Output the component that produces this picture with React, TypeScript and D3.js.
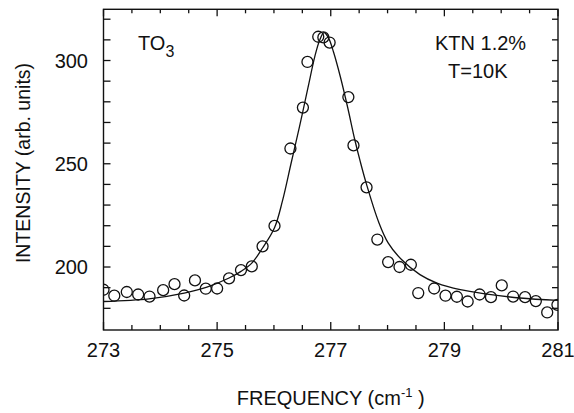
import * as d3 from 'd3';
import React, { useEffect, useRef } from 'react';

// measured points (frequency in cm-1, intensity in arb. units)
const dataFreq = [
  273.0, 273.19, 273.41, 273.61, 273.81, 274.05, 274.25, 274.42, 274.61, 274.8,
  275.0, 275.21, 275.42, 275.61, 275.8, 276.01, 276.29, 276.51, 276.59, 276.78,
  276.87, 276.98, 277.31, 277.4, 277.63, 277.82, 278.01, 278.21, 278.41, 278.54,
  278.82, 279.02, 279.22, 279.41, 279.62, 279.82, 280.01, 280.21, 280.42, 280.61,
  280.81, 280.99,
];
const dataIntensity = [
  189, 186.1, 187.9, 186.7, 185.7, 188.8, 191.7, 186.2, 193.5, 189.5,
  189.6, 194.5, 198.5, 200.3, 210, 219.9, 257.4, 277.2, 299.3, 311.5,
  311.2, 308.7, 282.3, 258.9, 238.6, 213.3, 202.4, 200, 201.1, 187.4,
  189.6, 186.1, 185.6, 183.3, 186.7, 185.4, 191.1, 185.7, 185.4, 183.5,
  178, 181.7,
];

// fitted curve
const fitFreq = [
  273.0, 273.8, 274.42, 274.82, 275.21, 275.42, 275.61, 275.8, 276.01, 276.15,
  276.3, 276.45, 276.6, 276.72, 276.8, 276.88, 276.96, 277.05, 277.17, 277.3,
  277.42, 277.52, 277.63, 277.84, 278.01, 278.25, 278.57, 278.87, 279.28, 279.75,
  280.33, 281.0,
];
const fitIntensity = [
  183.3, 184.6, 187.4, 190.3, 194.7, 197.9, 201.9, 209.2, 219, 232,
  250, 268, 287, 302, 309.5, 313.5, 311, 304, 292, 277,
  262, 251, 240, 222, 211.7, 203.5, 196.3, 192.2, 189, 186.9,
  185, 183.8,
];

const xTickLabels = [273, 275, 277, 279, 281];
const xMinorTicks = [273.5, 274, 274.5, 275.5, 276, 276.5, 277.5, 278, 278.5, 279.5, 280, 280.5];
const yTickLabels = [200, 250, 300];
const yTicks = [180, 190, 200, 210, 220, 230, 240, 250, 260, 270, 280, 290, 300, 310, 320];

const W = 574;
const H = 413;
const FONT = "'Liberation Sans', Arial, Helvetica, sans-serif";

const App = () => {
  const ref = useRef<SVGSVGElement>(null);

  useEffect(() => {
    const svg = d3.select(ref.current);
    svg.selectAll('*').remove();

    const left = 103.5, right = 558, top = 9.3, bottom = 330;

    const x = d3.scaleLinear().domain([273, 281]).range([left, right]);
    const y = d3.scaleLinear().domain([169.5, 324.8]).range([bottom, top]);

    svg.append('defs').append('clipPath').attr('id', 'plotClip')
      .append('rect')
      .attr('x', left).attr('y', top)
      .attr('width', right - left).attr('height', bottom - top);

    // frame
    svg.append('rect')
      .attr('x', left).attr('y', top)
      .attr('width', right - left).attr('height', bottom - top)
      .attr('fill', 'none').attr('stroke', '#111').attr('stroke-width', 1.4);

    const ticks = svg.append('g').attr('stroke', '#111').attr('stroke-width', 1.3);

    // x ticks, inward on bottom and top
    xTickLabels.forEach((v) => {
      ticks.append('line').attr('x1', x(v)).attr('x2', x(v)).attr('y1', bottom).attr('y2', bottom - 8);
      ticks.append('line').attr('x1', x(v)).attr('x2', x(v)).attr('y1', top).attr('y2', top + 7);
    });
    xMinorTicks.forEach((v) => {
      ticks.append('line').attr('x1', x(v)).attr('x2', x(v)).attr('y1', bottom).attr('y2', bottom - 5);
      ticks.append('line').attr('x1', x(v)).attr('x2', x(v)).attr('y1', top).attr('y2', top + 4);
    });

    // y ticks, inward on left and right
    yTicks.forEach((v) => {
      ticks.append('line').attr('x1', left).attr('x2', left + 7).attr('y1', y(v)).attr('y2', y(v));
      ticks.append('line').attr('x1', right).attr('x2', right - 6).attr('y1', y(v)).attr('y2', y(v));
    });

    const labels = svg.append('g').attr('font-family', FONT).attr('fill', '#111');

    labels.selectAll('.xl').data(xTickLabels).enter().append('text')
      .attr('x', (d) => x(d)).attr('y', 357)
      .attr('text-anchor', 'middle').attr('font-size', 20)
      .text((d) => d);

    labels.selectAll('.yl').data(yTickLabels).enter().append('text')
      .attr('x', 88).attr('y', (d) => y(d) + 7)
      .attr('text-anchor', 'end').attr('font-size', 20)
      .text((d) => d);

    // axis titles
    const xt = labels.append('text')
      .attr('x', (left + right) / 2).attr('y', 405)
      .attr('text-anchor', 'middle').attr('font-size', 20);
    xt.append('tspan').text('FREQUENCY (cm');
    xt.append('tspan').attr('font-size', 13).attr('dy', -8).text('-1');
    xt.append('tspan').attr('dy', 8).text(' )');

    labels.append('text')
      .attr('transform', 'translate(30,' + 163 + ') rotate(-90)')
      .attr('text-anchor', 'middle').attr('font-size', 19.5)
      .text('INTENSITY (arb. units)');

    // annotations
    const to = labels.append('text').attr('x', 138).attr('y', 50).attr('font-size', 20);
    to.append('tspan').text('TO');
    to.append('tspan').attr('font-size', 16).attr('dy', 7).text('3');

    labels.append('text').attr('x', 435).attr('y', 50).attr('font-size', 20).text('KTN 1.2%');
    labels.append('text').attr('x', 448).attr('y', 78).attr('font-size', 20).text('T=10K');

    // fitted line
    const fit = fitFreq.map((f, i) => ({ f, v: fitIntensity[i] }));
    const line = d3.line<{ f: number; v: number }>()
      .x((d) => x(d.f)).y((d) => y(d.v))
      .curve(d3.curveCatmullRom.alpha(0.5));

    svg.append('path')
      .attr('d', line(fit))
      .attr('fill', 'none').attr('stroke', '#111').attr('stroke-width', 1.3)
      .attr('clip-path', 'url(#plotClip)');

    // data circles
    const pts = dataFreq.map((f, i) => ({ f, v: dataIntensity[i] }));
    svg.append('g').attr('clip-path', 'url(#plotClip)')
      .selectAll('circle').data(pts).enter().append('circle')
      .attr('cx', (d) => x(d.f)).attr('cy', (d) => y(d.v))
      .attr('r', 5.5)
      .attr('fill', 'none').attr('stroke', '#111').attr('stroke-width', 1.3);
  }, []);

  return (
    <div style={{ position: 'absolute', left: 0, top: 0 }}>
      <svg ref={ref} width={W} height={H} style={{ display: 'block', background: '#fff' }}></svg>
    </div>
  );
};

export default App;
